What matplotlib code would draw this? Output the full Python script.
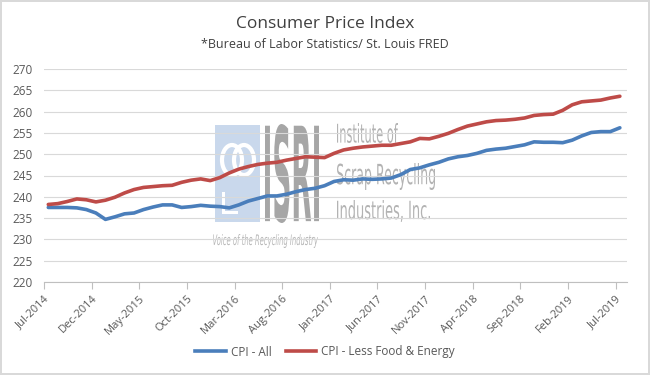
import matplotlib
matplotlib.use("Agg")
import matplotlib.pyplot as plt
import numpy as np
from matplotlib.textpath import TextPath
from matplotlib.font_manager import FontProperties
from matplotlib.patches import PathPatch, Rectangle, Ellipse
from matplotlib.transforms import Affine2D, IdentityTransform
from matplotlib.lines import Line2D

# ---------------- data ----------------
tick_labels = ["Jul-2014", "Dec-2014", "May-2015", "Oct-2015", "Mar-2016", "Aug-2016",
               "Jan-2017", "Jun-2017", "Nov-2017", "Apr-2018", "Sep-2018", "Feb-2019", "Jul-2019"]

cpi_all = [237.5, 237.5, 237.5, 237.4, 237.0, 236.2, 234.7, 235.3, 236.0, 236.2,
           237.0, 237.6, 238.1, 238.1, 237.5, 237.7, 238.0, 237.8, 237.7, 237.4,
           238.1, 239.0, 239.6, 240.2, 240.2, 240.6, 241.2, 241.7, 242.0, 242.6,
           243.6, 244.0, 243.9, 244.2, 244.1, 244.2, 244.4, 245.2, 246.4, 246.8,
           247.5, 248.1, 248.9, 249.4, 249.7, 250.2, 250.9, 251.2, 251.4, 251.8,
           252.2, 252.9, 252.8, 252.8, 252.7, 253.3, 254.3, 255.1, 255.3, 255.3,
           256.2]

cpi_core = [238.2, 238.4, 238.9, 239.5, 239.3, 238.8, 239.2, 239.9, 240.9, 241.7,
            242.2, 242.4, 242.6, 242.7, 243.4, 243.9, 244.2, 243.8, 244.5, 245.6,
            246.5, 247.1, 247.6, 247.9, 248.1, 248.6, 249.0, 249.4, 249.3, 249.2,
            250.2, 251.0, 251.4, 251.7, 251.9, 252.1, 252.1, 252.5, 252.9, 253.7,
            253.6, 254.2, 254.9, 255.8, 256.6, 257.1, 257.6, 257.9, 258.0, 258.2,
            258.5, 259.1, 259.3, 259.4, 260.3, 261.6, 262.3, 262.5, 262.7, 263.2,
            263.6]

series_names = ["CPI - All", "CPI - Less Food & Energy"]

# ---------------- figure ----------------
W, H = 650, 375
fig = plt.figure(figsize=(W / 100, H / 100), dpi=100)
fig.patch.set_facecolor("white")
fig.patch.set_edgecolor("#D9D9D9")
fig.patch.set_linewidth(1.5)

left, right, top, bottom = 44, 627, 69, 282
ax = fig.add_axes([left / W, 1 - bottom / H, (right - left) / W, (bottom - top) / H])

font = "Open Sans"
txt_color = "#595959"

months = np.arange(len(cpi_all)) + 0.45
blue = "#4A7EBB"
red = "#BE4B48"
ax.plot(months, cpi_all, color=blue, lw=2.6, solid_capstyle="round", zorder=3)
ax.plot(months, cpi_core, color=red, lw=2.6, solid_capstyle="round", zorder=3)

ax.set_ylim(220, 270)
ax.set_yticks(np.arange(220, 271, 5))
ax.set_xlim(0, 61.2)
ax.set_xticks(np.arange(0, 61, 5))
ax.set_xticklabels(tick_labels, rotation=45, ha="right", rotation_mode="anchor",
                   fontsize=8, color=txt_color, family=font)
for lab in ax.get_yticklabels():
    lab.set_family(font)
ax.tick_params(axis="y", length=0, pad=8, labelsize=8.5, labelcolor=txt_color)
ax.tick_params(axis="x", length=5, width=0.8, color="#BFBFBF", pad=3)

ax.grid(axis="y", color="#D9D9D9", lw=0.8)
ax.set_axisbelow(True)
for s in ["top", "right", "left"]:
    ax.spines[s].set_visible(False)
ax.spines["bottom"].set_color("#BFBFBF")
ax.spines["bottom"].set_linewidth(0.8)

# titles
fig.text(0.5, 1 - 24 / H, "Consumer Price Index", ha="center", va="center",
         fontsize=12.5, color="#404040", family=font)
fig.text(0.5, 1 - 45 / H, "*Bureau of Labor Statistics/ St. Louis FRED", ha="center",
         va="center", fontsize=9, color="#404040", family=font)

# legend
handles = [Line2D([], [], color=blue, lw=2.6), Line2D([], [], color=red, lw=2.6)]
leg = fig.legend(handles, series_names, loc="center", bbox_to_anchor=(0.5, 1 - 352 / H),
                 ncol=2, frameon=False, fontsize=8.5, handlelength=2.6,
                 columnspacing=1.2, handletextpad=0.4, prop={"family": font, "size": 8.5})
for t in leg.get_texts():
    t.set_color(txt_color)


# ---------------- watermark (ISRI logo) ----------------
def boxed_text(s, x0, y0, x1, y1, color, family, style="normal", weight="normal",
               alpha=1.0, z=0.3):
    tp = TextPath((0, 0), s, size=100,
                  prop=FontProperties(family=family, style=style, weight=weight))
    bb = tp.get_extents()
    sx = (x1 - x0) / bb.width
    sy = (y1 - y0) / bb.height
    tr = Affine2D().translate(-bb.x0, -bb.y0).scale(sx, sy).translate(x0, H - y1)
    p = PathPatch(tr.transform_path(tp), facecolor=color, lw=0, alpha=alpha,
                  transform=IdentityTransform(), zorder=z, clip_on=False)
    ax.add_patch(p)


wm_gray = "#B3B3B3"
ax.add_patch(Rectangle((215, H - 222), 45, 97, facecolor="#C9D8EC", lw=0,
                       transform=IdentityTransform(), zorder=0.3, clip_on=False))
ax.add_patch(Ellipse((232, H - 160), 20, 30, fill=False, edgecolor="white", lw=3,
                     transform=IdentityTransform(), zorder=0.35, clip_on=False))
ax.add_patch(Ellipse((244, H - 160), 20, 30, fill=False, edgecolor="white", lw=3,
                     transform=IdentityTransform(), zorder=0.35, clip_on=False))
ax.add_patch(Rectangle((222, H - 214), 3, 22, facecolor="white", lw=0,
                       transform=IdentityTransform(), zorder=0.35, clip_on=False))
ax.add_patch(Rectangle((222, H - 214), 16, 3, facecolor="white", lw=0,
                       transform=IdentityTransform(), zorder=0.35, clip_on=False))
boxed_text("ISRI", 265, 124, 319, 223, "#A6A6A6", "DejaVu Sans", weight="bold")
boxed_text("Institute of", 337, 123, 398, 143, wm_gray, "DejaVu Sans")
boxed_text("Scrap Recycling", 337, 163, 435, 190, wm_gray, "DejaVu Sans")
boxed_text("Industries, Inc.", 337, 200, 430, 222, wm_gray, "DejaVu Sans")
boxed_text("Voice of the Recycling Industry", 213, 234, 318, 248, "#B8B8B8",
           "DejaVu Sans", style="italic")

fig.savefig("out.png", dpi=100, facecolor=fig.get_facecolor(), edgecolor=fig.get_edgecolor())
